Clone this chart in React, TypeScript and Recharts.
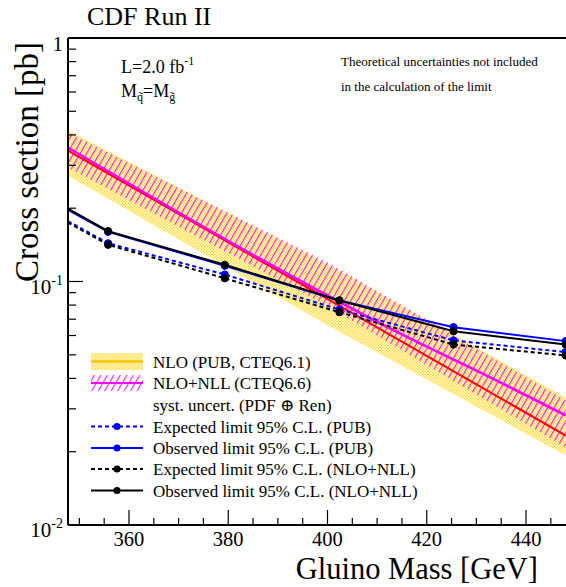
import React from "react";
import { ComposedChart, Line, Area, XAxis, YAxis, ReferenceLine } from "recharts";

// ---- data ----
const limitMass = [347.7, 355.8, 379.3, 402.4, 425.4, 448.0];
const obsPub = [0.197, 0.16, 0.116, 0.0836, 0.0649, 0.0569];
const expPub = [0.177, 0.1436, 0.1068, 0.0767, 0.0573, 0.0513];
const obsNll = [0.199, 0.1609, 0.1171, 0.0836, 0.0625, 0.0551];
const expNll = [0.1746, 0.1415, 0.1031, 0.0748, 0.0551, 0.0497];

const nloMass = [347.7, 400.5, 448.0];
const nloCentral = [0.345, 0.0836, 0.0233];
const nloLow = [0.272, 0.0654, 0.0193];
const nloHigh = [0.417, 0.1163, 0.0334];

const nllMass = [347.7, 386.4, 414.6, 432.7, 448.0];
const nllCentral = [0.355, 0.124, 0.0612, 0.0405, 0.0282];
const nllBandMass = [347.7, 400.5, 448.0];
const nllLow = [0.294, 0.0782, 0.0208];
const nllHigh = [0.409, 0.1186, 0.0325];

const xTicks = [350, 355, 360, 365, 370, 375, 380, 385, 390, 395, 400, 405, 410, 415, 420, 425, 430, 435, 440, 445];
const xMajor = [360, 380, 400, 420, 440];
const yTicks = [0.01, 0.02, 0.03, 0.04, 0.05, 0.06, 0.07, 0.08, 0.09, 0.1, 0.2, 0.3, 0.4, 0.5, 0.6, 0.7, 0.8, 0.9, 1];
const yMajor = [0.01, 0.1, 1];
const xDomain = [347.71, 448.06];
const yDomain = [0.01, 1];

// ---- build the table ----
type Row = { mass: number; [k: string]: any };
const rowsMap = new Map<number, Row>();
const getRow = (m: number) => {
  if (!rowsMap.has(m)) rowsMap.set(m, { mass: m });
  return rowsMap.get(m)!;
};
limitMass.forEach((m, i) => {
  const r = getRow(m);
  r.obsPub = obsPub[i];
  r.expPub = expPub[i];
  r.obsNll = obsNll[i];
  r.expNll = expNll[i];
});
nloMass.forEach((m, i) => {
  const r = getRow(m);
  r.nlo = nloCentral[i];
  r.nloBand = [nloLow[i], nloHigh[i]];
});
nllMass.forEach((m, i) => {
  getRow(m).nll = nllCentral[i];
});
nllBandMass.forEach((m, i) => {
  getRow(m).nllBand = [nllLow[i], nllHigh[i]];
});
const data = Array.from(rowsMap.values()).sort((a, b) => a.mass - b.mass);

const FONT = "'Liberation Serif', 'DejaVu Serif', serif";

const YTick = (props: any) => {
  const { x, y, payload } = props;
  const v = payload.value;
  const major = yMajor.includes(v);
  let label: React.ReactNode = null;
  if (major) {
    if (v === 1) {
      label = (
        <text x={x - 5} y={y + 13} textAnchor="end" fontSize={21} fontFamily={FONT} fill="#000">
          1
        </text>
      );
    } else {
      const e = v === 0.1 ? "-1" : "-2";
      label = (
        <text x={x - 5} y={y + 12} textAnchor="end" fontSize={21} fontFamily={FONT} fill="#000">
          10
          <tspan fontSize={14} dy={-9}>
            {e}
          </tspan>
        </text>
      );
    }
  }
  return (
    <g>
      <line x1={x} x2={x + (major ? 15 : 8)} y1={y} y2={y} stroke="#000" strokeWidth={1.2} />
      {label}
    </g>
  );
};

const XTick = (props: any) => {
  const { x, y, payload } = props;
  const v = payload.value;
  const major = xMajor.includes(v);
  return (
    <g>
      <line x1={x} x2={x} y1={y} y2={y - (major ? 15 : 7)} stroke="#000" strokeWidth={1.2} />
      {major && (
        <text x={x} y={y + 21} textAnchor="middle" fontSize={20.5} fontFamily={FONT} fill="#000">
          {v}
        </text>
      )}
    </g>
  );
};

const makeDot = (color: string) => (props: any) => {
  const { cx, cy, payload, index } = props;
  if (cx == null || cy == null || payload.mass === limitMass[0]) return <g key={`d${index}`} />;
  return <circle key={`d${index}`} cx={cx} cy={cy} r={3.6} fill={color} stroke={color} />;
};

const legendRows = [
  { y: 361.5, kind: "nlo", text: "NLO (PUB, CTEQ6.1)" },
  { y: 383, kind: "nll", text: "NLO+NLL (CTEQ6.6)" },
  { y: 405, kind: "none", text: "syst. uncert. (PDF \u2295 Ren)" },
  { y: 426.5, kind: "bdash", text: "Expected limit 95% C.L. (PUB)" },
  { y: 448, kind: "bsolid", text: "Observed limit 95% C.L. (PUB)" },
  { y: 469, kind: "kdash", text: "Expected limit 95% C.L. (NLO+NLL)" },
  { y: 490.5, kind: "ksolid", text: "Observed limit 95% C.L. (NLO+NLL)" },
];

const LegendSymbol = ({ kind, y }: { kind: string; y: number }) => {
  const x1 = 91;
  const x2 = 143;
  const xm = (x1 + x2) / 2;
  if (kind === "nlo")
    return (
      <g>
        <rect x={x1} y={y - 8.5} width={x2 - x1} height={17} fill="url(#yellowPat)" />
        <line x1={x1} x2={x2} y1={y} y2={y} stroke="#f5c800" strokeWidth={2.5} />
      </g>
    );
  if (kind === "nll")
    return (
      <g>
        <rect x={x1} y={y - 8} width={x2 - x1} height={16} fill="url(#hatchPat)" />
        <line x1={x1} x2={x2} y1={y} y2={y} stroke="#ff00ff" strokeWidth={2} />
      </g>
    );
  if (kind === "none") return null;
  const color = kind[0] === "b" ? "#0000ff" : "#000000";
  const dashed = kind.endsWith("dash");
  return (
    <g>
      <line x1={x1} x2={x2} y1={y} y2={y} stroke={color} strokeWidth={2} strokeDasharray={dashed ? "4 3" : undefined} />
      <circle cx={xm} cy={y} r={3.6} fill={color} />
    </g>
  );
};

export default function App() {
  return (
    <div style={{ position: "absolute", left: 0, top: 0, width: 566, height: 587, background: "#fff", overflow: "hidden" }}>
      <ComposedChart
        width={566}
        height={587}
        data={data}
        margin={{ top: 38, right: 0, bottom: 0, left: 0 }}
      >
        <defs>
          <pattern id="yellowPat" width="3" height="3" patternUnits="userSpaceOnUse">
            <rect x="0" y="0" width="3" height="3" fill="#fffbe2" />
            <rect x="0" y="0" width="1.5" height="1.5" fill="#ffdb38" />
            <rect x="1.5" y="1.5" width="1.5" height="1.5" fill="#ffdb38" />
          </pattern>
          <pattern id="hatchPat" width="5.6" height="5.6" patternUnits="userSpaceOnUse" patternTransform="rotate(30)">
            <line x1="0.6" y1="0" x2="0.6" y2="5.6" stroke="#ff00ff" strokeWidth="1" />
          </pattern>
        </defs>
        <XAxis
          dataKey="mass"
          type="number"
          domain={xDomain}
          allowDataOverflow
          ticks={xTicks}
          interval={0}
          tick={<XTick />}
          tickSize={0}
          tickMargin={0}
          tickLine={false}
          axisLine={{ stroke: "#000", strokeWidth: 2 }}
          height={62}
        />
        <YAxis
          type="number"
          scale="log"
          domain={yDomain}
          allowDataOverflow
          ticks={yTicks}
          interval={0}
          tick={<YTick />}
          tickSize={0}
          tickMargin={0}
          tickLine={false}
          axisLine={{ stroke: "#000", strokeWidth: 2 }}
          width={68}
        />
        <ReferenceLine y={1} stroke="#000" strokeWidth={2} />
        <Area
          dataKey="nloBand"
          type="linear"
          fill="url(#yellowPat)"
          fillOpacity={1}
          stroke="none"
          connectNulls
          isAnimationActive={false}
        />
        <Area
          dataKey="nllBand"
          type="linear"
          fill="url(#hatchPat)"
          fillOpacity={1}
          stroke="none"
          connectNulls
          isAnimationActive={false}
        />
        <Line dataKey="nlo" type="linear" stroke="#ff0000" strokeWidth={2} dot={false} connectNulls isAnimationActive={false} />
        <Line dataKey="nll" type="monotone" stroke="#ff00ff" strokeWidth={2.6} dot={false} connectNulls isAnimationActive={false} />
        <Line dataKey="expPub" type="linear" stroke="#0000ff" strokeWidth={2} strokeDasharray="4 3" dot={makeDot("#0000ff")} connectNulls isAnimationActive={false} />
        <Line dataKey="obsPub" type="linear" stroke="#0000ff" strokeWidth={2} dot={makeDot("#0000ff")} connectNulls isAnimationActive={false} />
        <Line dataKey="expNll" type="linear" stroke="#000000" strokeWidth={2} strokeDasharray="4 3" dot={makeDot("#000000")} connectNulls isAnimationActive={false} />
        <Line dataKey="obsNll" type="linear" stroke="#000000" strokeWidth={2} dot={makeDot("#000000")} connectNulls isAnimationActive={false} />
      </ComposedChart>
      <svg
        width={566}
        height={587}
        style={{ position: "absolute", left: 0, top: 0, pointerEvents: "none" }}
        fontFamily={FONT}
      >
        <text x={87} y={25} fontSize={26} fill="#000">CDF Run II</text>
        <text
          x={38}
          y={162}
          fontSize={33}
          fill="#000"
          textAnchor="middle"
          transform="rotate(-90 38 162)"
        >
          Cross section [pb]
        </text>
        <text x={538} y={579} fontSize={30.5} fill="#000" textAnchor="end">Gluino Mass [GeV]</text>
        <text x={121} y={73} fontSize={18} fill="#000">
          L=2.0 fb
          <tspan fontSize={12} dy={-8}>-1</tspan>
        </text>
        <text x={121} y={97} fontSize={18} fill="#000">
          M
          <tspan fontSize={12} dy={4}>{"q\u0303"}</tspan>
          <tspan dy={-4}>=M</tspan>
          <tspan fontSize={12} dy={4}>{"g\u0303"}</tspan>
        </text>
        <text x={341} y={66} fontSize={13} fill="#000">Theoretical uncertainties not included</text>
        <text x={341} y={91} fontSize={13} fill="#000">in the calculation of the limit</text>
        {legendRows.map((r) => (
          <g key={r.text}>
            <LegendSymbol kind={r.kind} y={r.y} />
            <text x={153} y={r.y + 6} fontSize={17} fill="#000">{r.text}</text>
          </g>
        ))}
      </svg>
    </div>
  );
}
